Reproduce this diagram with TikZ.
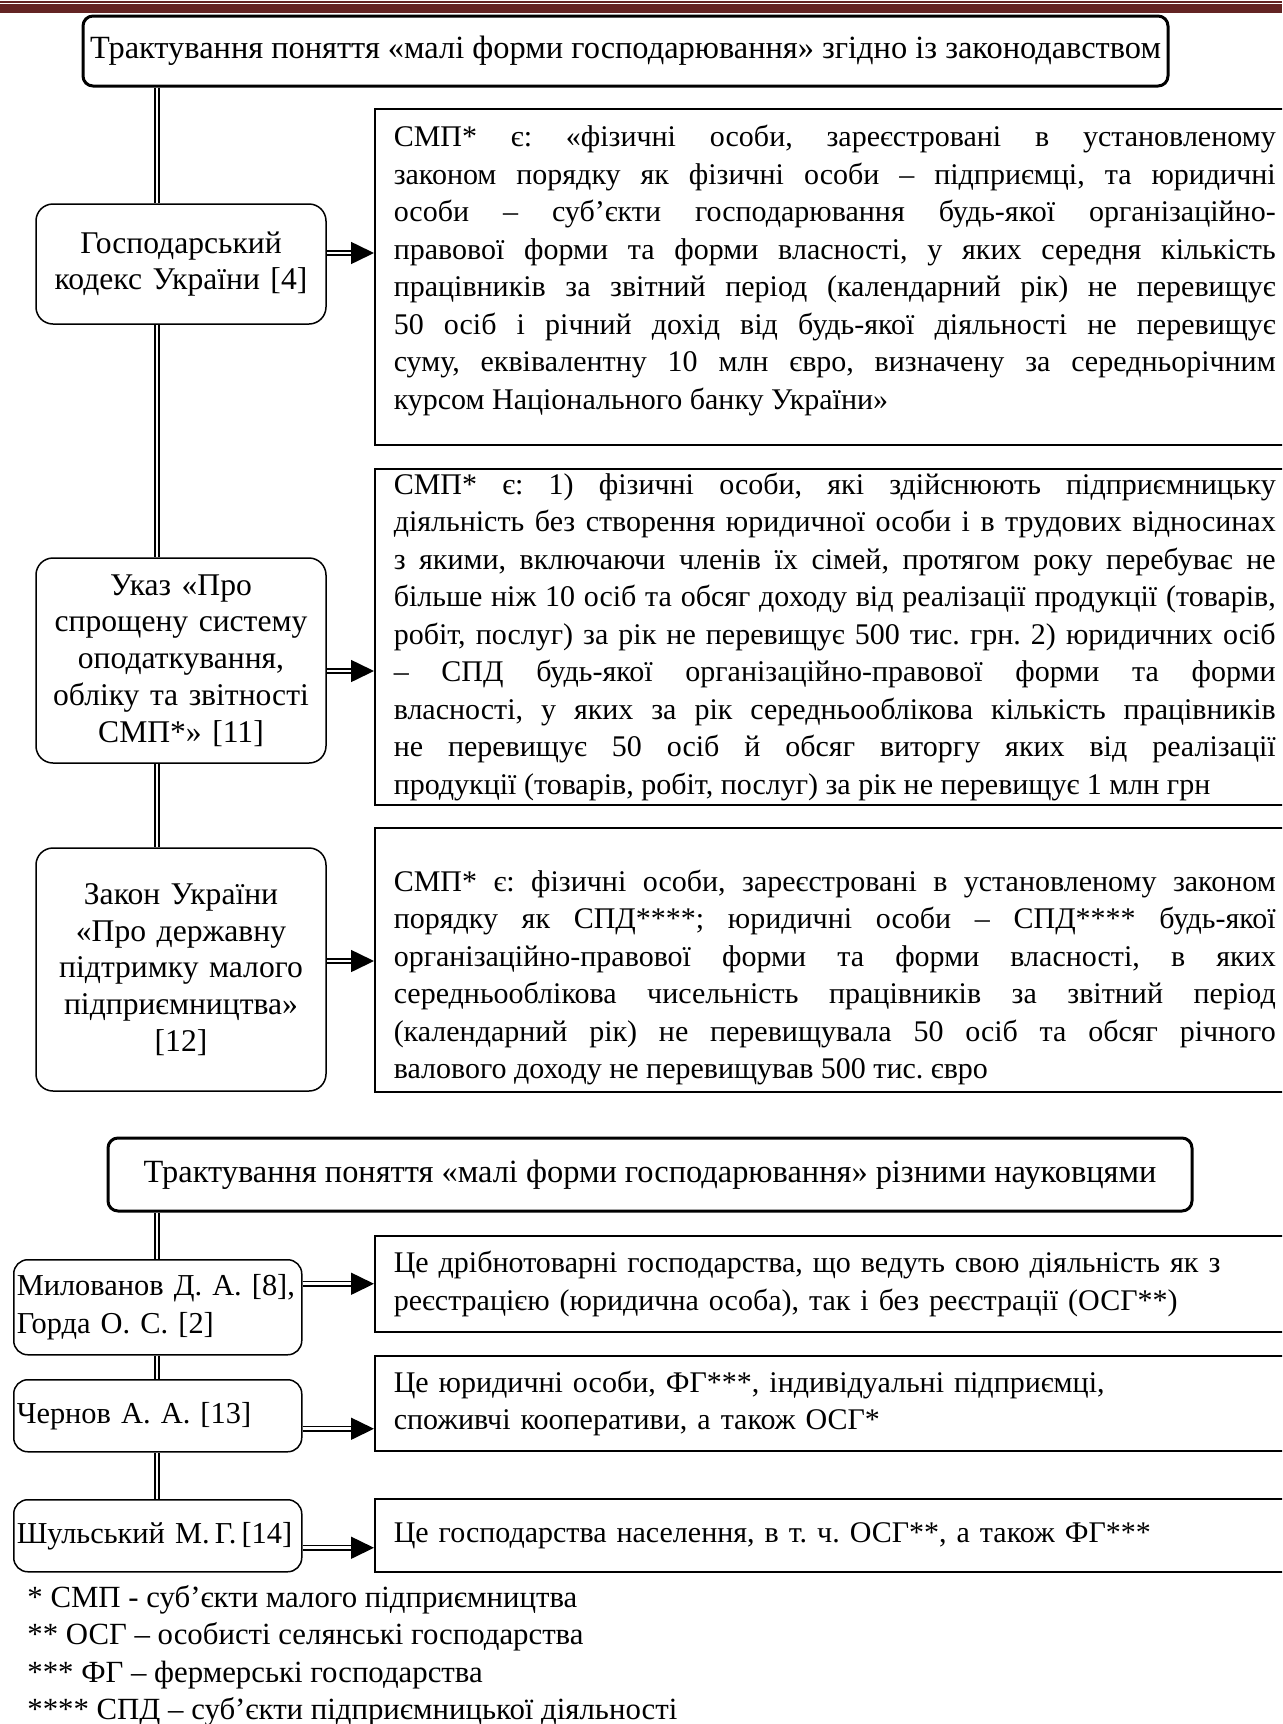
\documentclass[tikz,border=0pt]{standalone}
\usepackage{fontspec}
\setmainfont{Liberation Serif}
\usetikzlibrary{arrows.meta}
\usetikzlibrary{positioning}
\definecolor{headbrown}{RGB}{99,36,35}
\newcommand\titlefont{\fontsize{16.2pt}{18.75pt}\selectfont}
\newcommand\srcfont{\fontsize{15.8pt}{18.4pt}\selectfont}
\newcommand\deffont{\fontsize{15pt}{18.75pt}\selectfont}
\newcommand\whofont{\fontsize{15.2pt}{18.75pt}\selectfont}
\newcommand\notefont{\fontsize{15.4pt}{18.75pt}\selectfont}
\tolerance=10000
\hyphenpenalty=10000
\frenchspacing
\tikzset{
  titlebox/.style={draw, line width=1.5pt, rounded corners=5pt, fill=white,
    inner sep=2pt, font=\titlefont},
  srcbox/.style={draw, line width=0.75pt, rounded corners=8.5pt, fill=white,
    align=center, text width=139pt, inner xsep=3pt, inner ysep=2pt, font=\srcfont},
  whobox/.style={draw, line width=0.75pt, rounded corners=7pt, fill=white,
    align=left, text width=141pt, inner xsep=1.5pt, inner ysep=2pt,
    anchor=north west, font=\whofont},
  defbox/.style={draw, line width=0.75pt, fill=white, anchor=north west,
    text width=441pt, inner xsep=9.5pt, inner ysep=2pt, align=justify, font=\deffont},
  spine/.style={double, line width=0.8pt, double distance=1.4pt},
  feed/.style={spine, -{Triangle[length=11.5pt, width=11pt]}},
}
\begin{document}
\begin{tikzpicture}[x=0.5pt, y=-0.5pt]
\path[use as bounding box, clip] (0,0) rectangle (1282,1724);

% header rule
\fill[headbrown] (0,1) rectangle (1282,2.5);
\fill[headbrown] (0,4) rectangle (1282,13);

\coordinate (sp) at (157,0);

% legislation block
\node[titlebox, minimum width=542.5pt, minimum height=35pt] (law) at (625.5,51)
  {Трактування поняття «малі форми господарювання» згідно із законодавством};

\node[srcbox, minimum height=60pt] (gk) at (181,264) {Господарський\\кодекс України [4]};
\node[srcbox, minimum height=102.5pt] (uk) at (181,660.5)
  {Указ «Про\\спрощену систему\\оподаткування,\\обліку та звітності\\СМП*» [11]};
\node[srcbox, minimum height=121.5pt] (zk) at (181,969.5)
  {Закон України\\«Про державну\\підтримку малого\\підприємництва»\\{[12]}};

\node[defbox, minimum height=168pt, text depth=140.6pt] (d1) at (374,108)
  {СМП* є: «фізичні особи, зареєстровані в установленому\linebreak
  законом порядку як фізичні особи – підприємці, та юридичні\linebreak
  особи – суб’єкти господарювання будь-якої організаційно-\linebreak
  правової форми та форми власності, у яких середня кількість\linebreak
  працівників за звітний період (календарний рік) не перевищує\linebreak
  50 осіб і річний дохід від будь-якої діяльності не перевищує\linebreak
  суму, еквівалентну 10 млн євро, визначену за середньорічним\linebreak
  курсом Національного банку України»};
\node[defbox, minimum height=168pt] (d2) at (374,468)
  {СМП* є: 1)~фізичні особи, які здійснюють підприємницьку\linebreak
  діяльність без створення юридичної особи і в трудових відносинах\linebreak
  з якими, включаючи членів їх сімей, протягом року перебуває не\linebreak
  більше ніж 10 осіб та обсяг доходу від реалізації продукції (товарів,\linebreak
  робіт, послуг) за рік не перевищує 500 тис. грн. 2) юридичних осіб\linebreak
  – СПД будь-якої організаційно-правової форми та форми\linebreak
  власності, у яких за рік середньооблікова кількість працівників\linebreak
  не перевищує 50~осіб й обсяг виторгу яких від реалізації\linebreak
  продукції (товарів, робіт, послуг) за рік не перевищує 1 млн грн};
\node[defbox, minimum height=132pt, text height=28.7pt] (d3) at (374,827)
  {СМП* є: фізичні особи, зареєстровані в установленому законом\linebreak
  порядку як СПД****; юридичні особи – СПД**** будь-якої\linebreak
  організаційно-правової форми та форми власності, в яких\linebreak
  середньооблікова чисельність працівників за звітний період\linebreak
  (календарний рік) не перевищувала 50~осіб та обсяг річного\linebreak
  валового доходу не перевищував 500 тис. євро};

\draw[spine] (law.south -| sp) -- (gk.north -| sp);
\draw[spine] (gk.south -| sp) -- (uk.north -| sp);
\draw[spine] (uk.south -| sp) -- (zk.north -| sp);

\draw[feed] ([yshift=5.5pt]gk.east) -- ([yshift=5.5pt]gk.east -| d1.west);
\draw[feed] ([yshift=-5.25pt]uk.east) -- ([yshift=-5.25pt]uk.east -| d2.west);
\draw[feed] ([yshift=4.25pt]zk.east) -- ([yshift=4.25pt]zk.east -| d3.west);

% scientists block
\node[titlebox, minimum width=542pt, minimum height=36.5pt] (sci) at (650,1174.5)
  {Трактування поняття «малі форми господарювання» різними науковцями};

\node[whobox, minimum height=47.5pt] (ml) at (13,1259)
  {Милованов~Д.~А.~[8],\\Горда~О.~С.~[2]};
\node[whobox, minimum height=36pt] (ch) at (13,1379) {Чернов~А.~А.~[13]};
\node[whobox, minimum height=36pt] (sh) at (13,1499) {Шульський~М.\,Г.\,[14]};

\node[defbox, align=left, minimum height=48pt] (d4) at (374,1235)
  {Це дрібнотоварні господарства, що ведуть свою діяльність як з\\
  реєстрацією (юридична особа), так і без реєстрації (ОСГ**)};
\node[defbox, align=left, minimum height=47.5pt] (d5) at (374,1355)
  {Це юридичні особи, ФГ***, індивідуальні підприємці,\\
  споживчі кооперативи, а також ОСГ*};
\node[defbox, align=left, minimum height=36.5pt] (d6) at (374,1498)
  {Це господарства населення, в т. ч. ОСГ**, а також ФГ***};

\draw[spine] (sci.south -| sp) -- (ml.north -| sp);
\draw[spine] (ml.south -| sp) -- (ch.north -| sp);
\draw[spine] (ch.south -| sp) -- (sh.north -| sp);

\draw[feed] ([yshift=11.75pt]ml.east) -- ([yshift=11.75pt]ml.east -| d4.west);
\draw[feed] ([yshift=-6.5pt]ch.east) -- ([yshift=-6.5pt]ch.east -| d5.west);
\draw[feed] ([yshift=-6pt]sh.east) -- ([yshift=-6pt]sh.east -| d6.west);

% footnotes
\node[anchor=north west, inner sep=0pt, align=left, font=\notefont] (notes) at (27,1585)
  {* СМП - суб’єкти малого підприємництва\\
  ** ОСГ – особисті селянські господарства\\
  *** ФГ – фермерські господарства\\
  **** СПД – суб’єкти підприємницької діяльності};
\end{tikzpicture}
\end{document}
